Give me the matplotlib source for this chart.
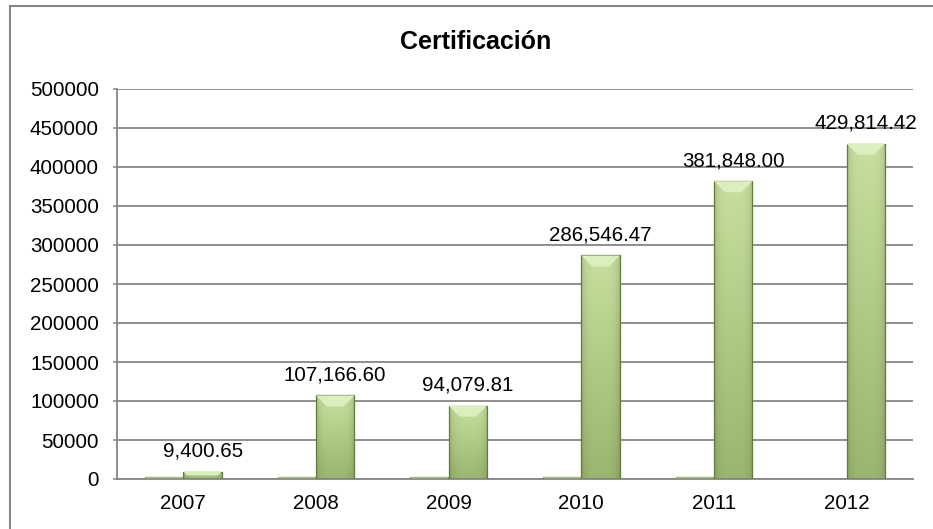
import numpy as np
import matplotlib
matplotlib.use("Agg")
import matplotlib.pyplot as plt
from matplotlib.patches import Rectangle, Polygon
from matplotlib.colors import to_rgb

plt.rcParams['font.family'] = ['Liberation Sans', 'DejaVu Sans']

# ---- data ----
years = ["2007", "2008", "2009", "2010", "2011", "2012"]
serie_anio = [2007, 2008, 2009, 2010, 2011, 0]          # tiny flat bars
certificacion = [9400.65, 107166.60, 94079.81, 286546.47, 381848.00, 429814.42]
yticks = [0, 50000, 100000, 150000, 200000, 250000, 300000, 350000, 400000, 450000, 500000]

W, H = 933, 529
fig = plt.figure(figsize=(W / 100, H / 100), dpi=100)
ax = fig.add_axes([117 / W, 1 - 479 / H, (913 - 117) / W, (479 - 89) / H])

grid_c = "#868686"
x = np.arange(len(years))
bw = 0.29

ax.set_xlim(-0.5, len(years) - 0.5)
ax.set_ylim(0, 500000)
ax.set_yticks(yticks)
ax.set_yticklabels([str(v) for v in yticks])
ax.set_xticks(x)
ax.set_xticklabels(years)
ax.tick_params(axis='y', length=3, width=1.1, color=grid_c, pad=10, labelsize=14.8)
ax.tick_params(axis='x', length=0, pad=11, labelsize=14.8)
ax.grid(axis='y', color=grid_c, linewidth=1.3)
ax.set_axisbelow(True)
for s in ['top', 'right']:
    ax.spines[s].set_visible(False)
for s in ['left', 'bottom']:
    ax.spines[s].set_color(grid_c)
    ax.spines[s].set_linewidth(1.3)

top_c = np.array(to_rgb("#c6df9e"))
bot_c = np.array(to_rgb("#9ab66f"))
edge_c = "#5f7c38"


def draw_bar(xc, val):
    if val <= 0:
        return
    rect = ax.bar(xc, val, width=bw, color="none", edgecolor=edge_c,
                  linewidth=0.9, zorder=3)[0]
    # gradient fill
    ny, nx = 64, 32
    t = np.linspace(0, 1, ny)[:, None, None]  # 0 top -> 1 bottom
    base = top_c * (1 - t) + bot_c * t
    hx = np.linspace(-1, 1, nx)[None, :, None]
    shade = 1.0 - 0.12 * np.abs(hx) ** 4
    img = np.clip(base * shade, 0, 1)
    im = ax.imshow(img, extent=[xc - bw / 2, xc + bw / 2, 0, val],
                   aspect='auto', zorder=2.5, interpolation='bilinear')
    im.set_clip_path(rect)
    # top bevel
    px_y = 500000 / 390.0
    px_x = (len(years)) / 796.0
    bev = min(11 * px_y, val / 2)
    inset = min(11 * px_x, bev / px_y * px_x)
    poly = Polygon([[xc - bw / 2, val], [xc + bw / 2, val],
                    [xc + bw / 2 - inset, val - bev], [xc - bw / 2 + inset, val - bev]],
                   closed=True, facecolor="#dbeebe", edgecolor="none", zorder=3.2)
    ax.add_patch(poly)


for i in range(len(years)):
    draw_bar(x[i] - bw / 2, serie_anio[i])
    draw_bar(x[i] + bw / 2, certificacion[i])
    ax.annotate(f"{certificacion[i]:,.2f}", (x[i] + bw / 2, certificacion[i]),
                xytext=(0, 8), textcoords='offset points', ha='center', va='bottom',
                fontsize=14.8, color='black', zorder=5)

ax.set_xlim(-0.5, len(years) - 0.5)
ax.set_ylim(0, 500000)

fig.text(476 / W, 1 - 42 / H, "Certificación", ha='center', va='center',
         fontsize=18, fontweight='bold')

border = Rectangle((10 / W, -0.05), 1.2, 1 - 6 / H + 0.05, transform=fig.transFigure,
                   fill=False, edgecolor=grid_c, linewidth=1.5, zorder=10)
fig.patches.append(border)

fig.savefig("out.png", dpi=100)
